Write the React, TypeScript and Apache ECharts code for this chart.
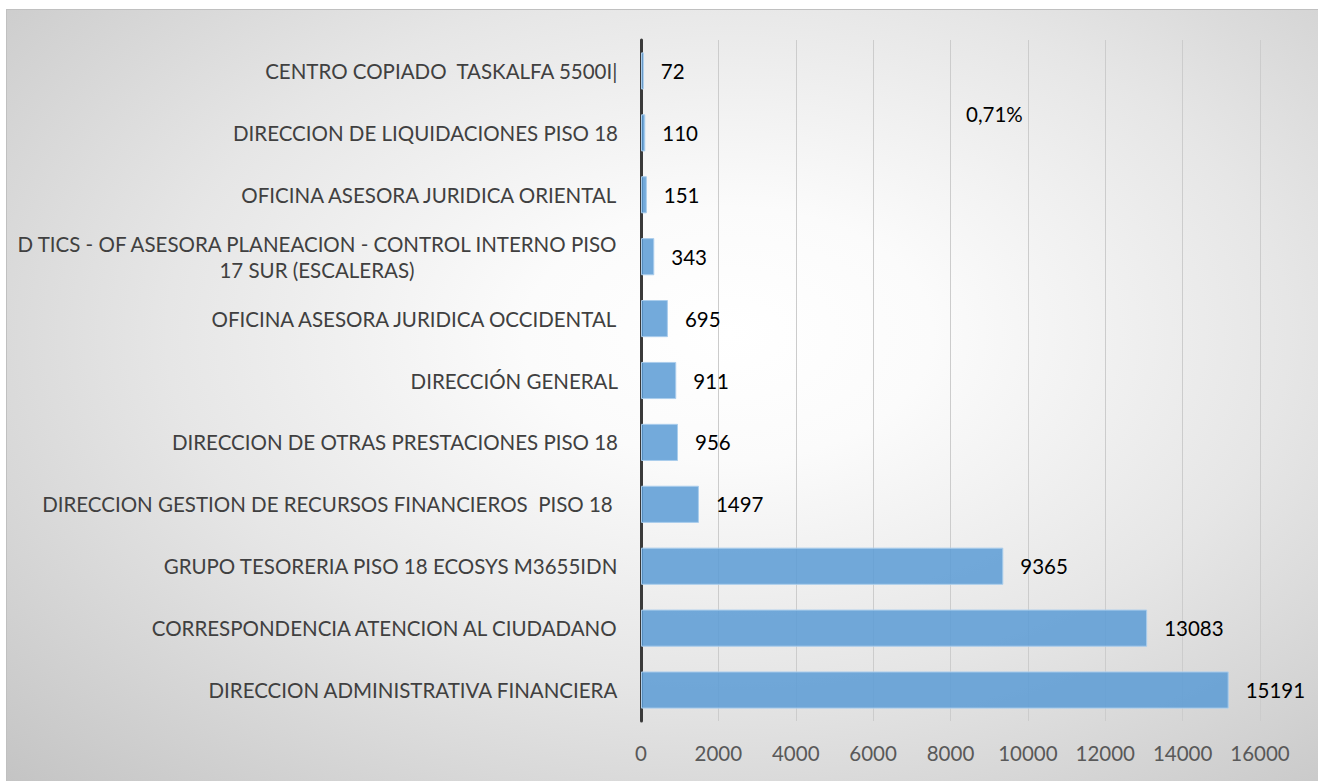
import React, { useEffect, useRef } from "react";
import * as echarts from "echarts";

const categories: string[] = [
  "CENTRO COPIADO  TASKALFA 5500I|",
  "DIRECCION DE LIQUIDACIONES PISO 18",
  "OFICINA ASESORA JURIDICA ORIENTAL",
  "D TICS - OF ASESORA PLANEACION - CONTROL INTERNO PISO\n17 SUR (ESCALERAS)",
  "OFICINA ASESORA JURIDICA OCCIDENTAL",
  "DIRECCIÓN GENERAL",
  "DIRECCION DE OTRAS PRESTACIONES PISO 18",
  "DIRECCION GESTION DE RECURSOS FINANCIEROS  PISO 18 ",
  "GRUPO TESORERIA PISO 18 ECOSYS M3655IDN",
  "CORRESPONDENCIA ATENCION AL CIUDADANO",
  "DIRECCION ADMINISTRATIVA FINANCIERA",
];
const values: number[] = [72, 110, 151, 343, 695, 911, 956, 1497, 9365, 13083, 15191];
const annotation = "0,71%";

const FONT = "Lato, 'Noto Sans', sans-serif";
const FS = 20.5;

export default function App() {
  const ref = useRef<HTMLDivElement>(null);
  useEffect(() => {
    if (!ref.current) return;
    const chart = echarts.init(ref.current, undefined, { renderer: "svg" });
    chart.setOption({
      animation: false,
      grid: { left: 634, right: 58, top: 30, bottom: 60, containLabel: false },
      xAxis: {
        type: "value",
        min: 0,
        max: 16000,
        interval: 2000,
        axisLine: { show: false },
        axisTick: { show: false },
        splitLine: { show: true, lineStyle: { color: "#cccccc", width: 1 } },
        axisLabel: {
          color: "#595959",
          fontSize: FS,
          fontFamily: FONT,
          margin: 21,
          formatter: (v: number) => String(v),
        },
      },
      yAxis: {
        type: "category",
        inverse: true,
        data: categories,
        axisLine: { show: true, lineStyle: { color: "#3a3a3a", width: 3 } },
        axisTick: { show: false },
        axisLabel: {
          margin: 23,
          color: "#404040",
          fontSize: FS,
          fontFamily: FONT,
          lineHeight: 26,
          formatter: (v: string) =>
            v
              .split("\n")
              .map((l) => `{c|${l}}`)
              .join("\n"),
          rich: {
            c: { align: "center", color: "#404040", fontSize: FS, fontFamily: FONT, lineHeight: 26 },
          },
        },
      },
      series: [
        {
          type: "bar",
          data: values,
          barCategoryGap: "40%",
          itemStyle: {
            color: "rgba(91,155,213,0.85)",
            borderColor: "rgba(170,205,236,1)",
            borderWidth: 1,
          },
          label: {
            show: true,
            position: "right",
            distance: 17,
            color: "#000",
            fontSize: FS,
            fontFamily: FONT,
          },
        },
      ],
      graphic: [
        {
          type: "text",
          left: 959,
          top: 93,
          style: { text: annotation, fill: "#000", fontSize: FS, fontFamily: FONT },
        },
      ],
    });
    return () => chart.dispose();
  }, []);
  return (
    <div
      ref={ref}
      style={{
        position: "absolute",
        left: 6,
        top: 9,
        width: 1312,
        height: 772,
        boxSizing: "border-box",
        borderTop: "1px solid #c0c0c0",
        borderLeft: "1px solid #c0c0c0",
        background:
          "radial-gradient(ellipse farthest-corner at 55% 42%, #ffffff 0%, #fbfbfb 20%, #e6e6e6 55%, #c4c4c4 100%)",
      }}
    />
  );
}
